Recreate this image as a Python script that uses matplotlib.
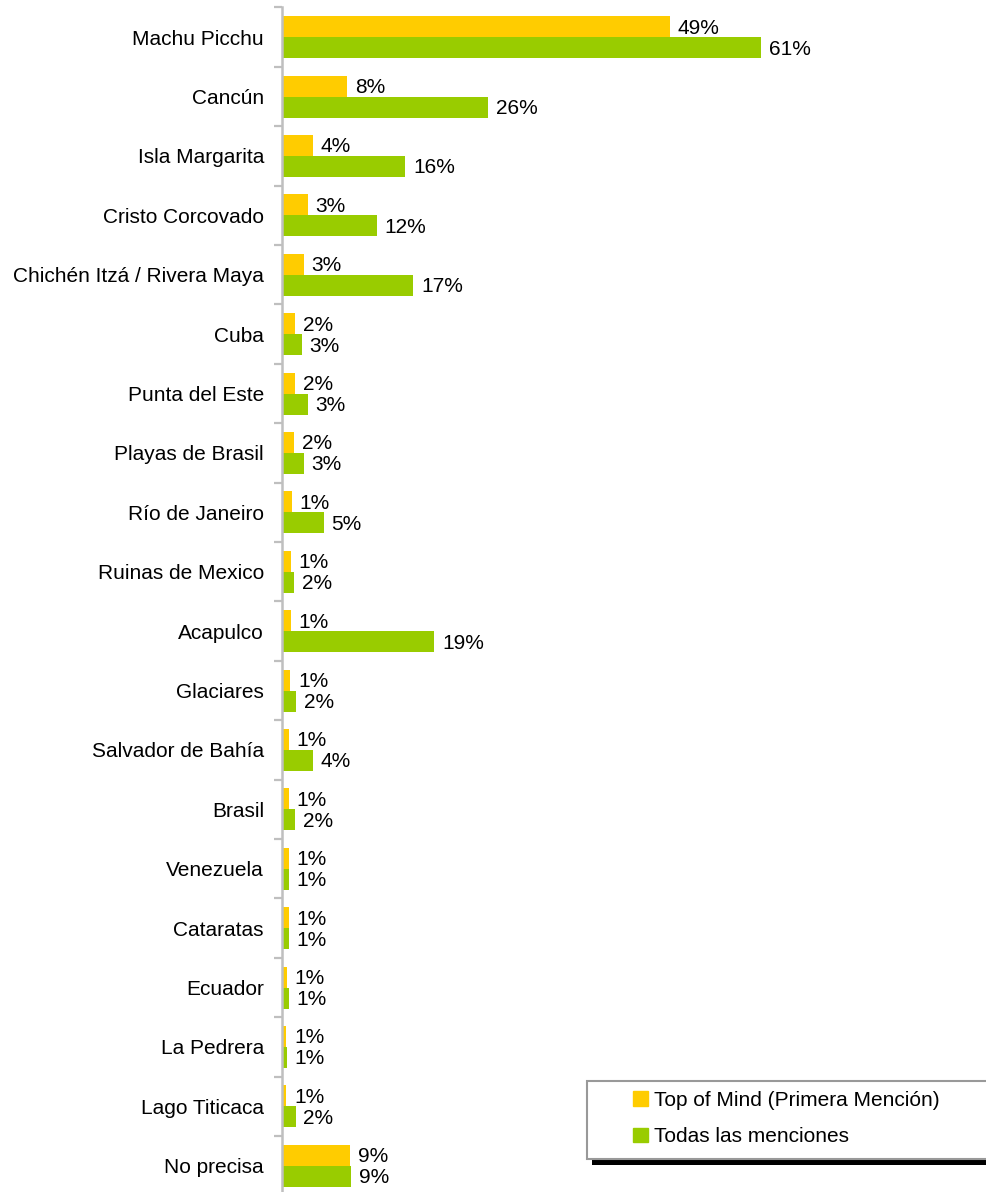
import numpy as np
import matplotlib
matplotlib.use('Agg')
import matplotlib.pyplot as plt
from matplotlib.patches import Rectangle, Patch

plt.rcParams['font.family'] = ['Liberation Sans', 'DejaVu Sans']

destinos = ['Machu Picchu', 'Cancún', 'Isla Margarita', 'Cristo Corcovado',
            'Chichén Itzá / Rivera Maya', 'Cuba', 'Punta del Este',
            'Playas de Brasil', 'Río de Janeiro', 'Ruinas de Mexico', 'Acapulco',
            'Glaciares', 'Salvador de Bahía', 'Brasil', 'Venezuela', 'Cataratas',
            'Ecuador', 'La Pedrera', 'Lago Titicaca', 'No precisa']
# % de menciones
top_of_mind = [49.4, 8.3, 3.9, 3.3, 2.8, 1.7, 1.7, 1.55, 1.3, 1.15, 1.15,
               1.05, 0.9, 0.9, 0.9, 0.9, 0.65, 0.55, 0.55, 8.65]
todas = [61.0, 26.2, 15.7, 12.1, 16.7, 2.55, 3.3, 2.8, 5.3, 1.55, 19.4,
         1.8, 3.9, 1.65, 0.9, 0.9, 0.9, 0.65, 1.75, 8.8]

c_top = '#FFCC00'
c_todas = '#99CC00'
gris = '#BFBFBF'

fig = plt.figure(figsize=(9.87, 11.92), dpi=100)
W, H = 987, 1192
ax = fig.add_axes([282 / W, -3.5 / H, (W - 282) / W, 1188 / H])

y = np.arange(len(destinos))
h = 0.355
b1 = ax.barh(y - h / 2, top_of_mind, height=h, color=c_top, label='Top of Mind (Primera Mención)')
b2 = ax.barh(y + h / 2, todas, height=h, color=c_todas, label='Todas las menciones')

for bars, vals in ((b1, top_of_mind), (b2, todas)):
    for bar, v in zip(bars, vals):
        ax.annotate(f'{int(v + 0.5)}%', (bar.get_width(), bar.get_y() + bar.get_height() / 2),
                    xytext=(5.5, -1), textcoords='offset points', va='center', ha='left',
                    fontsize=15, color='black')

ax.set_xlim(0, (W - 282) / 7.86)
ax.set_ylim(len(destinos) - 0.5, -0.5)
ax.set_yticks(y)
ax.set_yticklabels(destinos, fontsize=15)
ax.set_yticks(np.arange(len(destinos) + 1) - 0.5, minor=True)
ax.tick_params(axis='y', which='major', length=0, pad=13)
ax.tick_params(axis='y', which='minor', length=5.5, width=1.6, color=gris)
ax.set_xticks([])
for s in ('top', 'right', 'bottom'):
    ax.spines[s].set_visible(False)
ax.spines['left'].set_color(gris)
ax.spines['left'].set_linewidth(1.8)

# caja de leyenda con sombra
fig.patches.append(Rectangle((592 / W, (H - 1165) / H), (W - 592) / W, 6 / H,
                             transform=fig.transFigure, facecolor='black', edgecolor='none'))
fig.patches.append(Rectangle((587 / W, (H - 1159) / H), (W - 587 + 10) / W, 78 / H,
                             transform=fig.transFigure, facecolor='white', edgecolor='#999999',
                             linewidth=1.5))
fig.legend(handles=[Patch(color=c_top, label=b1.get_label()),
                    Patch(color=c_todas, label=b2.get_label())],
           loc='center left', bbox_to_anchor=(633 / W, (H - 1118.5) / H), frameon=False,
           fontsize=15, handlelength=0.7, handleheight=0.7, handletextpad=0.3,
           labelspacing=0.85, borderpad=0, borderaxespad=0)

fig.savefig('out.png', dpi=100)
